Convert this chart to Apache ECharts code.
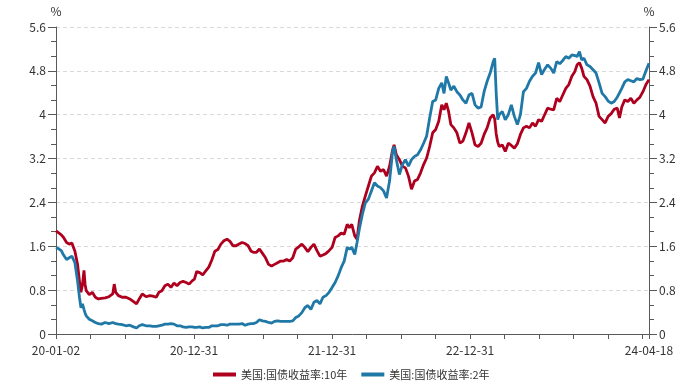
<!DOCTYPE html>
<html><head><meta charset="utf-8">
<script src="https://cdn.jsdelivr.net/npm/echarts@6/dist/echarts.min.js"></script>
<style>html,body{margin:0;padding:0;background:#fff}#c{width:681px;height:388px}</style>
</head><body><div id="c"></div>
<script>
const dates = [
'2020-01-02','2020-01-10','2020-01-16','2020-01-22','2020-01-30','2020-02-06','2020-02-13','2020-02-21','2020-02-28','2020-03-04',
'2020-03-08','2020-03-12','2020-03-16','2020-03-19','2020-03-22','2020-03-30','2020-04-07','2020-04-15','2020-04-23','2020-05-01',
'2020-05-11','2020-05-21','2020-05-31','2020-06-04','2020-06-08','2020-06-15','2020-06-25','2020-07-05','2020-07-15','2020-07-25',
'2020-08-02','2020-08-09','2020-08-17','2020-08-27','2020-09-06','2020-09-14','2020-09-23','2020-09-30','2020-10-08','2020-10-16',
'2020-10-24','2020-11-01','2020-11-09','2020-11-17','2020-11-25','2020-12-03','2020-12-11','2020-12-19','2020-12-27','2021-01-02',
'2021-01-08','2021-01-16','2021-01-24','2021-02-01','2021-02-09','2021-02-17','2021-02-25','2021-03-05','2021-03-13','2021-03-21',
'2021-03-29','2021-04-06','2021-04-14','2021-04-22','2021-04-30','2021-05-08','2021-05-16','2021-05-24','2021-06-01','2021-06-07',
'2021-06-15','2021-06-23','2021-07-01','2021-07-09','2021-07-17','2021-07-25','2021-08-02','2021-08-10','2021-08-18','2021-08-26',
'2021-09-03','2021-09-11','2021-09-19','2021-09-27','2021-10-05','2021-10-13','2021-10-21','2021-10-29','2021-11-06','2021-11-14',
'2021-11-22','2021-11-30','2021-12-08','2021-12-16','2021-12-24','2022-01-01','2022-01-09','2022-01-17','2022-01-25','2022-02-02',
'2022-02-10','2022-02-16','2022-02-22','2022-03-02','2022-03-08','2022-03-14','2022-03-22','2022-03-30','2022-04-07','2022-04-15',
'2022-04-23','2022-05-01','2022-05-09','2022-05-17','2022-05-25','2022-06-02','2022-06-10','2022-06-14','2022-06-20','2022-06-28',
'2022-07-06','2022-07-14','2022-07-22','2022-07-30','2022-08-07','2022-08-15','2022-08-23','2022-08-31','2022-09-08','2022-09-16',
'2022-09-24','2022-10-02','2022-10-10','2022-10-18','2022-10-24','2022-10-30','2022-11-05','2022-11-11','2022-11-19','2022-11-27',
'2022-12-05','2022-12-13','2022-12-21','2022-12-29','2023-01-06','2023-01-14','2023-01-22','2023-01-30','2023-02-07','2023-02-15',
'2023-02-23','2023-03-03','2023-03-07','2023-03-11','2023-03-15','2023-03-19','2023-03-27','2023-04-04','2023-04-12','2023-04-20',
'2023-04-28','2023-05-06','2023-05-14','2023-05-22','2023-05-30','2023-06-07','2023-06-15','2023-06-23','2023-07-01','2023-07-09',
'2023-07-17','2023-07-25','2023-08-02','2023-08-10','2023-08-18','2023-08-26','2023-09-03','2023-09-11','2023-09-19','2023-09-27',
'2023-10-05','2023-10-11','2023-10-17','2023-10-23','2023-10-29','2023-11-06','2023-11-14','2023-11-22','2023-11-30','2023-12-08',
'2023-12-16','2023-12-24','2024-01-01','2024-01-09','2024-01-17','2024-01-25','2024-01-31','2024-02-06','2024-02-14','2024-02-22',
'2024-03-01','2024-03-09','2024-03-17','2024-03-25','2024-04-02','2024-04-10','2024-04-18'
];
const yield10 = [
1.88,1.84,1.81,1.76,1.67,1.64,1.66,1.51,1.27,0.97,
0.76,0.90,1.16,0.90,0.79,0.72,0.76,0.67,0.64,0.65,
0.66,0.68,0.73,0.91,0.76,0.70,0.67,0.67,0.64,0.59,
0.55,0.64,0.73,0.68,0.70,0.69,0.67,0.76,0.79,0.88,
0.91,0.85,0.93,0.88,0.94,0.96,0.94,0.91,0.97,1.00,
1.14,1.12,1.08,1.15,1.22,1.35,1.51,1.54,1.64,1.70,
1.73,1.69,1.61,1.61,1.64,1.67,1.65,1.61,1.51,1.49,
1.49,1.55,1.47,1.39,1.27,1.24,1.27,1.30,1.33,1.33,
1.36,1.33,1.39,1.55,1.59,1.64,1.58,1.50,1.58,1.64,
1.52,1.42,1.44,1.47,1.52,1.58,1.76,1.79,1.84,1.82,
2.00,1.94,2.00,1.79,1.73,2.06,2.33,2.52,2.70,2.88,
2.94,3.06,2.97,3.00,2.88,3.06,3.36,3.45,3.27,3.18,
3.06,3.03,2.88,2.64,2.79,2.82,2.94,3.09,3.21,3.42,
3.67,3.73,3.88,4.18,4.09,4.21,4.06,3.82,3.76,3.67,
3.48,3.52,3.67,3.85,3.67,3.45,3.42,3.48,3.64,3.76,
3.94,4.00,3.92,3.65,3.50,3.42,3.45,3.33,3.48,3.44,
3.39,3.47,3.64,3.76,3.79,3.76,3.85,3.79,3.91,3.88,
4.00,4.12,4.10,4.09,4.30,4.24,4.36,4.48,4.55,4.70,
4.79,4.91,4.95,4.85,4.70,4.64,4.52,4.33,4.21,3.97,
3.91,3.85,3.97,4.02,4.10,4.12,3.94,4.14,4.27,4.24,
4.30,4.21,4.27,4.32,4.42,4.55,4.64
];
const yield2 = [
1.58,1.55,1.52,1.44,1.36,1.39,1.42,1.30,0.97,0.67,
0.48,0.55,0.45,0.38,0.33,0.27,0.24,0.21,0.19,0.18,
0.21,0.19,0.21,0.21,0.19,0.18,0.17,0.15,0.16,0.13,
0.11,0.15,0.17,0.15,0.15,0.14,0.14,0.15,0.16,0.18,
0.18,0.19,0.18,0.15,0.15,0.13,0.12,0.13,0.13,0.12,
0.12,0.13,0.11,0.12,0.12,0.15,0.15,0.15,0.17,0.17,
0.16,0.18,0.18,0.18,0.18,0.19,0.16,0.18,0.19,0.19,
0.21,0.26,0.24,0.23,0.21,0.20,0.23,0.24,0.23,0.23,
0.23,0.23,0.24,0.30,0.33,0.39,0.48,0.52,0.45,0.58,
0.61,0.55,0.67,0.70,0.76,0.85,0.94,1.06,1.21,1.33,
1.58,1.55,1.58,1.45,1.67,1.91,2.18,2.39,2.46,2.61,
2.76,2.70,2.67,2.61,2.48,2.79,3.33,3.42,3.18,2.91,
3.09,3.18,3.06,3.18,3.24,3.27,3.36,3.48,3.61,3.94,
4.24,4.27,4.48,4.58,4.39,4.70,4.58,4.45,4.52,4.42,
4.36,4.27,4.21,4.36,4.39,4.18,4.12,4.14,4.42,4.61,
4.76,4.97,5.03,4.39,3.91,4.00,4.06,3.91,4.00,4.18,
3.97,3.82,4.00,4.42,4.48,4.61,4.70,4.76,4.95,4.73,
4.83,4.91,4.85,4.76,4.97,4.93,4.99,5.06,5.03,5.09,
5.08,5.06,5.15,5.00,5.03,4.91,4.88,4.82,4.76,4.58,
4.39,4.33,4.25,4.21,4.24,4.32,4.40,4.48,4.60,4.64,
4.62,4.60,4.66,4.64,4.65,4.80,4.94
];
const seriesNames = ['美国:国债收益率:10年', '美国:国债收益率:2年'];
const xStart = '2020-01-02', xEnd = '2024-04-18';
const xLabelDates = ['2020-01-02', '2020-12-31', '2021-12-31', '2022-12-31', '2024-04-18'];
const yMin = 0, yMax = 5.6, yStep = 0.8;

const DAY = 86400000;
const dayOf = s => (Date.parse(s) - Date.parse(xStart)) / DAY;
const fmtDate = s => s.slice(2);
const xLabelFor = v => {
  for (const d of xLabelDates) if (Math.abs(dayOf(d) - v) < 2) return fmtDate(d);
  return '';
};
const FONT = '"Noto Sans CJK SC", "Noto Sans", sans-serif';
const TXT = '#333';
const AX = '#595959';

const yAxisBase = (pos) => ({
  type: 'value', position: pos, min: yMin, max: yMax, interval: yStep,
  name: '%', nameLocation: 'end', nameGap: 10,
  nameTextStyle: { color: TXT, fontSize: 12, fontFamily: FONT, align: 'center', padding: 0 },
  axisLine: { show: true, lineStyle: { color: AX, width: 1 } },
  axisTick: { show: true, inside: false, length: 8, lineStyle: { color: AX } },
  minorTick: { show: true, splitNumber: 3, length: 5, lineStyle: { color: AX } },
  axisLabel: { color: TXT, fontSize: 12, fontFamily: FONT, margin: 10, formatter: v => String(+v.toFixed(1)) },
  splitLine: { show: pos === 'left', lineStyle: { color: '#d9d9d9', type: [4, 3], width: 1 } },
  minorSplitLine: { show: false }
});

const chart = echarts.init(document.getElementById('c'), null, { renderer: 'canvas' });
chart.setOption({
  animation: false,
  backgroundColor: '#fff',
  grid: { left: 56, right: 32, top: 27, bottom: 54, containLabel: false, outerBoundsMode: 'none' },
  legend: {
    bottom: 3, left: 208, icon: 'rect', itemWidth: 23, itemHeight: 4, itemGap: 14,
    textStyle: { color: TXT, fontSize: 11, fontFamily: FONT },
    data: seriesNames
  },
  xAxis: {
    type: 'value', min: 0, max: dayOf(xEnd), interval: 365 / 4,
    axisLine: { show: true, onZero: false, lineStyle: { color: AX, width: 1 } },
    axisTick: { show: true, length: 5, lineStyle: { color: AX } },
    axisLabel: { color: TXT, fontSize: 12, fontFamily: FONT, margin: 10, formatter: v => xLabelFor(v), showMinLabel: true, showMaxLabel: true },
    splitLine: { show: false }
  },
  yAxis: [yAxisBase('left'), yAxisBase('right')],
  series: [
    {
      name: seriesNames[0], type: 'line', yAxisIndex: 0, showSymbol: false, symbol: 'none',
      lineStyle: { color: '#AE001E', width: 2.8 }, itemStyle: { color: '#AE001E' },
      data: dates.map((d, i) => [dayOf(d), yield10[i]])
    },
    {
      name: seriesNames[1], type: 'line', yAxisIndex: 0, showSymbol: false, symbol: 'none',
      lineStyle: { color: '#1F78A6', width: 2.8 }, itemStyle: { color: '#1F78A6' },
      data: dates.map((d, i) => [dayOf(d), yield2[i]])
    }
  ]
});
</script></body></html>
